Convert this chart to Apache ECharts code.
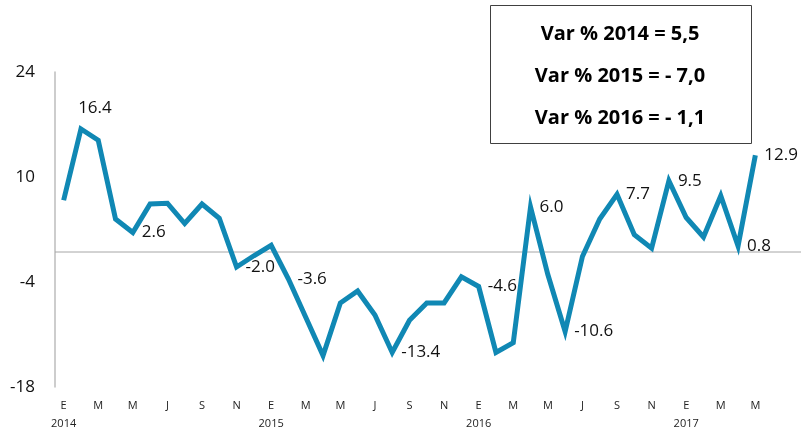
<!DOCTYPE html>
<html lang="es">
<head>
    <meta charset="UTF-8">
    <title>Var %</title>
    <script src="https://cdn.jsdelivr.net/npm/echarts@6/dist/echarts.min.js"></script>
    <style>
        body { margin: 0; background: #fff; }
        #chart { width: 801px; height: 434px; }
    </style>
</head>
<body>
<div id="chart"></div>
<script>
    // monthly initials, Jan 2014 .. May 2017
    const months = ['E','F','M','A','M','J','J','A','S','O','N','D'];
    const years = ['2014', '2015', '2016', '2017'];
    const values = [
        6.9, 16.4, 14.9, 4.4, 2.6, 6.4, 6.5, 3.8, 6.4, 4.5, -2.0, -0.5,
        0.9, -3.6, -8.7, -13.8, -6.8, -5.2, -8.4, -13.4, -9.1, -6.8, -6.8, -3.3,
        -4.6, -13.4, -12.1, 6.0, -3.0, -10.6, -0.6, 4.4, 7.7, 2.3, 0.5, 9.5,
        4.6, 2.0, 7.5, 0.8, 12.9
    ];
    const labeledIdx = [1, 4, 10, 13, 19, 24, 27, 29, 32, 35, 39, 40];
    const yTicks = [-18, -4, 10, 24];
    const boxLines = ['Var % 2014 = 5,5', 'Var % 2015 = - 7,0', 'Var % 2016 = - 1,1'];

    const categories = values.map((v, i) => {
        const m = months[i % 12];
        return i % 12 === 0 ? m + '\n{y|' + years[i / 12] + '}' : m;
    });

    const seriesData = values.map((v, i) => {
        if (labeledIdx.indexOf(i) < 0) return v;
        const item = {
            value: v,
            label: { show: true, position: 'right', distance: 9 }
        };
        if (i === 1) item.label = { show: true, position: 'top', distance: 12, offset: [14, 0] };
        return item;
    });

    const chart = echarts.init(document.getElementById('chart'));
    const font = "'Open Sans', 'Liberation Sans', sans-serif";
    chart.setOption({
        animation: false,
        backgroundColor: '#fff',
        grid: { left: 55, right: 37, top: 72, bottom: 47 },
        xAxis: {
            type: 'category',
            data: categories,
            boundaryGap: true,
            axisLine: { show: false },
            axisTick: { show: false },
            axisLabel: {
                interval: 1,
                margin: 10,
                color: '#222',
                fontFamily: font,
                fontSize: 11,
                lineHeight: 18,
                formatter: v => v,
                rich: { y: { fontSize: 11, color: '#222', fontFamily: font, lineHeight: 18 } }
            },
            splitLine: { show: false }
        },
        yAxis: {
            type: 'value',
            min: yTicks[0],
            max: yTicks[yTicks.length - 1],
            interval: 14,
            axisLine: { show: true, lineStyle: { color: '#bdbdbd', width: 1.5 } },
            axisTick: { show: false },
            splitLine: { show: false },
            axisLabel: { color: '#111', fontFamily: font, fontSize: 17, margin: 20 }
        },
        series: [{
            type: 'line',
            data: seriesData,
            symbol: 'circle',
            symbolSize: 0,
            showAllSymbol: true,
            lineStyle: { color: '#1088b4', width: 5, join: 'miter' },
            itemStyle: { color: '#1088b4' },
            label: {
                color: '#111',
                fontFamily: font,
                fontSize: 17,
                formatter: p => p.value.toFixed(1)
            },
            z: 3
        }]
    });

    // zero line runs from the axis to the right edge
    const y0 = chart.convertToPixel({ yAxisIndex: 0 }, 0);
    chart.setOption({
        graphic: [
            {
                type: 'line', z: 1,
                shape: { x1: 55, y1: y0, x2: 801, y2: y0 },
                style: { stroke: '#a6a6a6', lineWidth: 1 }
            },
            {
                type: 'rect',
                shape: { x: 490.5, y: 5.5, width: 261, height: 138 },
                style: { fill: '#fff', stroke: '#404040', lineWidth: 1 }
            }
        ].concat(boxLines.map((t, i) => ({
            type: 'text',
            x: 620, y: 34 + i * 42,
            style: {
                text: t, fill: '#000', font: 'bold 20px ' + font,
                textAlign: 'center', textVerticalAlign: 'middle'
            }
        })))
    });
</script>
</body>
</html>
